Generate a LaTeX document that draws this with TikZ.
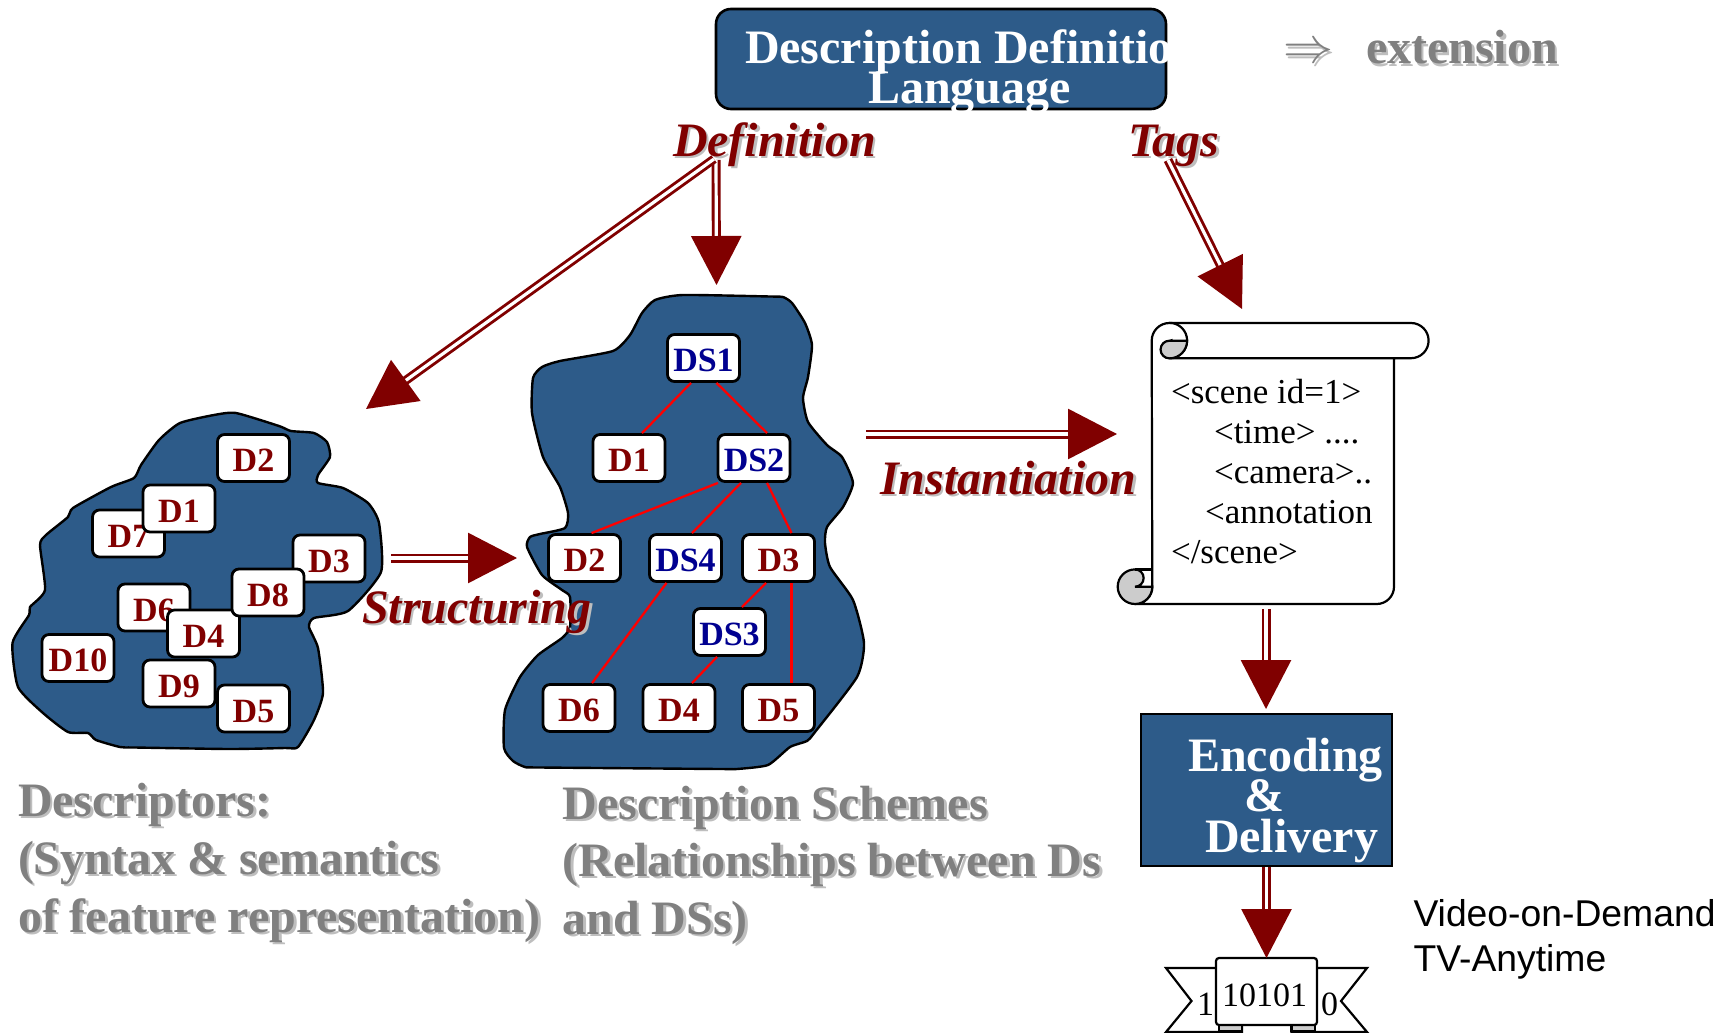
\documentclass[tikz,border=0pt]{standalone}
\usepackage{fontspec}
\usepackage{graphicx}
\setmainfont{Liberation Serif}
\newfontfamily\arialfont{Liberation Sans}
\usetikzlibrary{arrows.meta}
\definecolor{blobblue}{HTML}{2D5B89}
\definecolor{darkred}{HTML}{800000}
\definecolor{dsblue}{HTML}{000090}
\definecolor{graytxt}{HTML}{808080}
\definecolor{grayshadow}{HTML}{BEBEBE}
\definecolor{curl}{HTML}{CCCCCC}
\newcommand{\bigb}{\fontsize{48}{50}\selectfont\bfseries}
\newcommand{\italab}{\fontsize{48}{50}\selectfont\bfseries\itshape}
\newcommand{\shlab}[7]{%
 \node[txt,text=#6,font=#4,xshift=2.6pt,yshift=-2.6pt] (#1s) at (#2,#3) {#7};
 \node[txt,text=#5,font=#4] (#1) at (#2,#3) {#7};}
\tikzset{
 txt/.style={anchor=base west,inner sep=0pt,outer sep=0pt},
 blob/.style={draw=black,fill=blobblue,line width=2.4pt},
 tag/.style={draw=black,fill=white,line width=2.8pt,rounded corners=7pt,minimum width=72pt,minimum height=47pt,inner sep=0pt,text height=27pt,text depth=0pt,font=\fontsize{34}{36}\selectfont\bfseries},
 dtag/.style={tag,text=darkred},
 stag/.style={tag,text=dsblue},
 rel/.style={draw=red,line width=2.3pt},
 bigarrow/.style={draw=darkred,double=white,double distance=3.2pt,line width=2.9pt,-{Triangle[length=49pt,width=50pt]}},
 scrollline/.style={draw=black,line width=2.2pt},
 code/.style={txt,font=\fontsize{35}{37}\selectfont},
}
\begin{document}
\begin{tikzpicture}[x=1pt,y=-1pt]
\useasboundingbox (0,0) rectangle (1722,1033);
% blobs
\draw[blob] plot[smooth cycle,tension=0.35] coordinates {(236,413)(279,426)(291,431)(314,433)(327,442)(330,457)(318,475)(318,483)(343,488)(368,503)(379,523)(381,572)(348,611)(314,618)(309,627)(318,648)(323,693)(314,720)(298,747)(285,748)(229,749)(135,747.5)(120,747)(96,740)(88,733)(68,732)(43,713)(18,687)(12.5,643)(29,615)(30,607)(45,590)(40,545)(46,535)(68,517)(73,508)(111,487)(134,478)(141,465)(159,440)(180,423)(214,415)};
\draw[blob] plot[smooth cycle,tension=0.35] coordinates {(683,295)(770,296.5)(783,297)(792,303)(805,323)(812,345)(808,377)(803,398)(808,422)(827,445)(842,457)(853,483)(843,507)(827,527)(825,543)(830,567)(853,600)(864,643)(857,677)(815,732)(807,741)(790,747)(768,765)(737,769)(720,769)(540,767.5)(525,767)(513,761)(504,748)(505,710)(520,677)(538,655)(562,638)(570,627)(570,597)(562,590)(542,575)(527,547)(530,537)(540,534)(565,528)(568,513)(560,487)(543,457)(532,413)(533,378)(542,367)(560,361)(613,351)(630,335)(642,313)(655,300)};
% descriptors
\node[dtag] (a2) at (253.5,458) {D2};
\node[dtag] (a7) at (128.5,533.5) {D7};
\node[dtag] (a1) at (179,508.5) {D1};
\node[dtag] (a3) at (329,558.5) {D3};
\node[dtag] (a6) at (154,607.5) {D6};
\node[dtag] (a4) at (203.5,633.5) {D4};
\node[dtag] (a8) at (268,592.5) {D8};
\node[dtag] (a10) at (78,658) {D10};
\node[dtag] (a9) at (179,683.5) {D9};
\node[dtag] (a5) at (253.5,708.5) {D5};
% description scheme tree
\node[stag] (b1) at (703.5,358) {DS1};
\node[dtag] (b2) at (629,458) {D1};
\node[stag] (b3) at (754,458) {DS2};
\node[dtag] (b4) at (584.5,558) {D2};
\node[stag] (b5) at (685.5,558) {DS4};
\node[dtag] (b6) at (778.5,558) {D3};
\node[stag] (b7) at (729.5,632) {DS3};
\node[dtag] (b8) at (579,708) {D6};
\node[dtag] (b9) at (679,708) {D4};
\node[dtag] (b10) at (778.5,708) {D5};
\draw[rel] ([xshift=-12.5pt]b1.south) -- ([xshift=13pt]b2.north);
\draw[rel] ([xshift=13pt]b1.south) -- ([xshift=13pt]b3.north);
\draw[rel] ([xshift=-36pt]b3.south) -- ([xshift=7pt]b4.north);
\draw[rel] ([xshift=-13pt]b3.south) -- ([xshift=6.5pt]b5.north);
\draw[rel] ([xshift=13pt]b3.south) -- ([xshift=13pt]b6.north);
\draw[rel] ([xshift=-19pt]b5.south) -- ([xshift=13pt]b8.north);
\draw[rel] ([xshift=-12.5pt]b6.south) -- ([xshift=12.5pt]b7.north);
\draw[rel] ([xshift=13pt]b6.south) -- ([xshift=13pt]b10.north);
\draw[rel] ([xshift=-12.5pt]b7.south) -- ([xshift=13pt]b9.north);
% top box
\node[draw=black,fill=blobblue,line width=2.6pt,rounded corners=15pt,minimum width=450pt,minimum height=100pt,inner sep=0pt] (ddlbox) at (941,59) {};
\node[txt,text=white,font=\bigb] (ddl1) at (745,64) {Description Definition};
\node[txt,text=white,font=\bigb] (ddl2) at (868,103) {Language};
\shlab{ext}{1366}{64}{\bigb}{graytxt}{grayshadow}{extension}
\shlab{extarrow}{1283}{63}{\fontsize{10}{12}\selectfont}{graytxt}{grayshadow}{\scalebox{5}{$\Rightarrow$}}
% scroll
\draw[scrollline,fill=white] (1151.7,340.7) arc[start angle=180,end angle=90,radius=17.7pt] -- (1411,323) arc[start angle=90,end angle=-90,radius=17.6pt] -- (1394,358.2) -- (1394,586.7) arc[start angle=0,end angle=-90,radius=17.3pt] -- (1135,604) arc[start angle=-90,end angle=0,radius=17.3pt] -- cycle;
\draw[scrollline] (1394,358.2) -- (1169.4,358.2) arc[start angle=-90,end angle=90,radius=17.7pt];
\draw[scrollline,fill=curl] (1169.4,340.7) -- (1187.1,340.7) arc[start angle=0,end angle=-90,radius=17.7pt] arc[start angle=-90,end angle=-270,radius=8.85pt] -- cycle;
\draw[scrollline,fill=curl] (1135,569.4) arc[start angle=90,end angle=270,radius=17.3pt] arc[start angle=-90,end angle=0,radius=17.3pt] -- (1135,586.7) arc[start angle=-90,end angle=90,radius=8.65pt] -- cycle;
\draw[scrollline] (1135,569.4) -- (1151.7,569.4);
\node[code] (c1) at (1171,403) {<scene id=1>};
\node[code] (c2) at (1214,443) {<time> ....};
\node[code] (c3) at (1214,483) {<camera>..};
\node[code] (c4) at (1205,523) {<annotation};
\node[code] (c5) at (1171,563) {</scene>};
% encoding
\node[draw=black,fill=blobblue,line width=2.6pt,minimum width=251pt,minimum height=152pt,inner sep=0pt] (enc) at (1266.5,790) {};
\node[txt,text=white,font=\bigb] (e1) at (1188,771) {Encoding};
\node[txt,text=white,font=\bigb] (e2) at (1244,811) {\&};
\node[txt,text=white,font=\bigb] (e3) at (1205,852) {Delivery};
% ribbon
\draw[scrollline,fill=white] (1217,968) -- (1166,968) -- (1191.5,1001) -- (1166,1032) -- (1242,1032) -- (1242,1020) -- (1217,1020) -- cycle;
\draw[scrollline,fill=white] (1316,968) -- (1367,968) -- (1341,1001) -- (1367,1032) -- (1291.5,1032) -- (1291.5,1020) -- (1316,1020) -- cycle;
\draw[scrollline,fill=curl] (1219,1024) -- (1219,1031) -- (1242,1031) -- (1242,1024) -- cycle;
\draw[scrollline,fill=curl] (1291.5,1024) -- (1291.5,1031) -- (1315,1031) -- (1315,1024) -- cycle;
\node[draw=black,fill=white,line width=2.2pt,rounded corners=3pt,minimum width=101pt,minimum height=67pt,inner sep=0pt] (rib) at (1266.5,991.5) {};
\node[txt,font=\fontsize{34}{36}\selectfont] (r0) at (1222,1006) {10101};
\node[txt,font=\fontsize{34}{36}\selectfont] (r1) at (1197,1015) {1};
\node[txt,font=\fontsize{34}{36}\selectfont] (r2) at (1321,1015) {0};
\node[txt,font=\fontsize{37.3}{39}\selectfont\arialfont] (v1) at (1413.5,926) {Video-on-Demand};
\node[txt,font=\fontsize{37.3}{39}\selectfont\arialfont] (v2) at (1413.5,971) {TV-Anytime};
% labels
\shlab{def}{673}{156}{\italab}{darkred}{grayshadow}{Definition}
\shlab{tags}{1128}{156}{\italab}{darkred}{grayshadow}{Tags}
\shlab{inst}{880}{494}{\italab}{darkred}{grayshadow}{Instantiation}
\shlab{stru}{362}{623}{\italab}{darkred}{grayshadow}{Structuring}
% gray captions
\shlab{d1}{18}{816}{\bigb}{graytxt}{grayshadow}{Descriptors:}
\shlab{d2}{18}{874}{\bigb}{graytxt}{grayshadow}{(Syntax \& semantics}
\shlab{d3}{18}{932}{\bigb}{graytxt}{grayshadow}{of feature representation)}
\shlab{s1}{562.5}{819}{\bigb}{graytxt}{grayshadow}{Description Schemes}
\shlab{s2}{562.5}{876}{\bigb}{graytxt}{grayshadow}{(Relationships between Ds}
\shlab{s3}{562.5}{934}{\bigb}{graytxt}{grayshadow}{and DSs)}
% arrows
\coordinate (fromdef) at (716,160);
\coordinate (fromdef2) at (714,159);
\coordinate (fromtags) at (1168,160);
\coordinate (toschemes) at (716.5,285);
\coordinate (todesc) at (366,409);
\coordinate (toscroll) at (1242,309);
\coordinate (fromdesc) at (391,558);
\coordinate (toschemes2) at (517,558);
\coordinate (fromschemes) at (866,434);
\coordinate (toscroll2) at (1117,434);
\coordinate (fromscroll) at (1266,609);
\coordinate (toenc) at (1266,709);
\coordinate (fromenc) at (1266.5,867);
\coordinate (torib) at (1266.5,958);
\draw[bigarrow] (fromdef) -- (toschemes);
\draw[bigarrow] (fromdef2) -- (todesc);
\draw[bigarrow] (fromtags) -- (toscroll);
\draw[bigarrow] (fromdesc) -- (toschemes2);
\draw[bigarrow] (fromschemes) -- (toscroll2);
\draw[bigarrow] (fromscroll) -- (toenc);
\draw[bigarrow] (fromenc) -- (torib);
\end{tikzpicture}
\end{document}
